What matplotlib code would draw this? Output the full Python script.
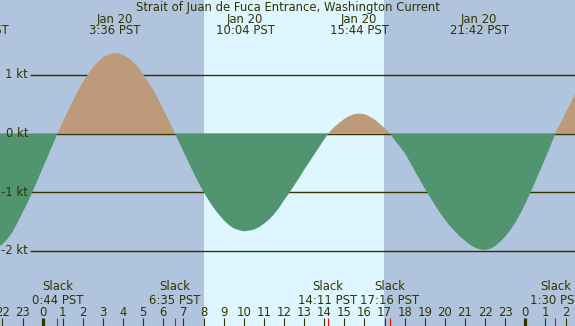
import numpy as np
import matplotlib
matplotlib.use("Agg")
import matplotlib.pyplot as plt

# ---- data ----
title = "Strait of Juan de Fuca Entrance, Washington Current"

# current speed (kt) every quarter hour from -2.5 h to 27 h (hours from Jan 20 0:00)
hours = np.arange(-2.5, 27.01, 0.25)
speed = [-1.98, -1.95, -1.89, -1.80, -1.68, -1.52, -1.35, -1.18, -0.99, -0.79,
         -0.59, -0.39, -0.19, 0.01, 0.20, 0.38, 0.56, 0.72, 0.88, 1.01,
         1.13, 1.22, 1.30, 1.34, 1.37, 1.37, 1.34, 1.29, 1.22, 1.13,
         1.01, 0.88, 0.74, 0.58, 0.41, 0.24, 0.06, -0.13, -0.31, -0.49,
         -0.67, -0.84, -1.00, -1.14, -1.27, -1.38, -1.48, -1.56, -1.62, -1.65,
         -1.67, -1.66, -1.64, -1.60, -1.54, -1.47, -1.38, -1.27, -1.14, -1.02,
         -0.89, -0.76, -0.62, -0.49, -0.36, -0.23, -0.10, 0.02, 0.11, 0.18,
         0.25, 0.30, 0.33, 0.34, 0.33, 0.29, 0.24, 0.17, 0.09, 0.01,
         -0.11, -0.22, -0.33, -0.48, -0.64, -0.79, -0.94, -1.08, -1.22, -1.35,
         -1.47, -1.58, -1.67, -1.76, -1.83, -1.90, -1.95, -1.98, -1.99, -1.97,
         -1.92, -1.85, -1.76, -1.65, -1.52, -1.37, -1.20, -1.01, -0.82, -0.62,
         -0.42, -0.21, 0.00, 0.18, 0.35, 0.52, 0.69, 0.85, 1.00]

max_dates = ["Jan 19", "Jan 20", "Jan 20", "Jan 20", "Jan 20"]
max_times = ["20:52", "3:36", "10:04", "15:44", "21:42"]
max_days = [-1, 0, 0, 0, 0]

slack_times = ["0:44", "6:35", "14:11", "17:16", "1:30"]
slack_days = [0, 0, 0, 0, 1]

sunrise = "8:00"
sunset = "16:58"

kt_levels = [1, 0, -1, -2]
hour_ticks = list(range(-2, 27))

# ---- style ----
night = "#b0c4de"
day = "#ddf6ff"
flood = "#bc9a7a"
ebb = "#509470"
ink = "#333300"
fs = 8.4


def to_hours(t, d=0):
    h, m = t.split(":")
    return int(h) + int(m) / 60 + 24 * d


fig = plt.figure(figsize=(5.75, 3.26), dpi=100)
fig.patch.set_facecolor(night)
ax = fig.add_axes([0, 0, 1, 1])
ax.set_facecolor(night)
ax.set_xlim(-2.124, 26.47)
ax.set_ylim(-3.287, 2.279)
ax.axis("off")
bt = ax.get_xaxis_transform()

ax.axvspan(to_hours(sunrise), to_hours(sunset), color=day, lw=0, zorder=0)

# grid lines behind the fills
for lv in kt_levels:
    if lv != 0:
        ax.hlines(lv, -0.63, 27, color=ink, lw=1.0, zorder=1)
ax.hlines(-0.006, -0.63, 27, color=ink, lw=1.0, zorder=2.5)

v = np.array(speed)
ax.fill_between(hours, 0, v, where=v >= 0, interpolate=True, color=flood, lw=0, zorder=2)
ax.fill_between(hours, 0, v, where=v <= 0, interpolate=True, color=ebb, lw=0, zorder=3)

# y labels
for lv in kt_levels:
    ax.text(-0.731, lv, f"{lv} kt", ha="right", va="center", color=ink, fontsize=fs, zorder=5)

# title
ax.text(0.5, 1 - 8 / 326, title, transform=ax.transAxes, ha="center", va="center",
        color=ink, fontsize=fs, zorder=5)

# max current labels
for d, t, dd in zip(max_dates, max_times, max_days):
    x = to_hours(t, dd)
    ax.text(x, 1 - 19.5 / 326, d, transform=bt, ha="center", va="center", color=ink, fontsize=fs, zorder=5)
    ax.text(x, 1 - 31 / 326, f"{t} PST", transform=bt, ha="center", va="center", color=ink, fontsize=fs, zorder=5)

# slack labels and red ticks
for t, dd in zip(slack_times, slack_days):
    x = to_hours(t, dd)
    ax.text(x, 1 - 287 / 326, "Slack", transform=bt, ha="center", va="center", color=ink, fontsize=fs, zorder=5)
    ax.text(x, 1 - 300 / 326, f"{t} PST", transform=bt, ha="center", va="center", color=ink, fontsize=fs, zorder=5)
    ax.vlines(x, 0, 8.3 / 326, transform=bt, color="red", lw=0.8, zorder=5)

# hour ticks
for h in hour_ticks:
    ax.text(h, 1 - 312 / 326, str(h % 24), transform=bt, ha="center", va="center", color=ink, fontsize=fs, zorder=5)
    ax.vlines(h, 0, 8.3 / 326, transform=bt, color=ink, lw=2.3 if h % 24 == 0 else 0.8, zorder=5)

fig.savefig("out.png", dpi=100, facecolor=night)
